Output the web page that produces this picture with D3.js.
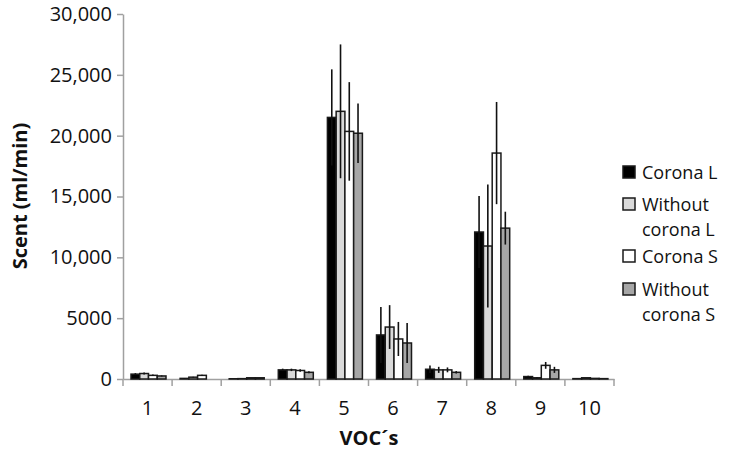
<!DOCTYPE html>
<html>
<head>
<meta charset="utf-8">
<title>VOC scent</title>
<script src="https://cdn.jsdelivr.net/npm/d3@7"></script>
<style>
  body { margin: 0; background: #fff; }
  text { font-family: "Open Sans", "Liberation Sans", sans-serif; fill: #111; }
</style>
</head>
<body>
<script>
// categories and series (ml/min)
var vocs = ["1","2","3","4","5","6","7","8","9","10"]
var seriesNames = ["Corona L", "Without corona L", "Corona S", "Without corona S"]
var coronaL      = [400, 50, 20, 750, 21500, 3620, 800, 12080, 200, 30]
var withoutL     = [450, 150, 30, 750, 22000, 4270, 750, 10930, 100, 100]
var coronaS      = [300, 300, 100, 700, 20350, 3290, 750, 18570, 1120, 50]
var withoutS     = [250, 0, 100, 550, 20200, 2960, 550, 12400, 750, 30]
var errCoronaL   = [80, 20, 0, 100, 3950, 2300, 300, 2960, 60, 0]
var errWithoutL  = [80, 30, 0, 100, 5500, 1800, 250, 5050, 30, 0]
var errCoronaS   = [60, 40, 0, 100, 4050, 1400, 200, 4200, 280, 0]
var errWithoutS  = [40, 0, 0, 80, 2450, 1650, 100, 1350, 250, 0]
var yTicks = [0, 5000, 10000, 15000, 20000, 25000, 30000]

var values = [coronaL, withoutL, coronaS, withoutS]
var errors = [errCoronaL, errWithoutL, errCoronaS, errWithoutS]
var fills = ["#000000", "#d9d9d9", "#ffffff", "#a6a6a6"]

var w = 729, h = 453
var svg = d3.select("body").append("svg").attr("width", w).attr("height", h)

var x = d3.scaleBand().domain(vocs).range([123, 614])
var xi = d3.scaleBand().domain(d3.range(4)).range([8, 43])
var y = d3.scaleLinear().domain([0, 30000]).range([379, 14])

// y axis
var yAxis = svg.append("g").attr("transform", "translate(123,0)")
  .call(d3.axisLeft(y).tickValues(yTicks).tickSizeOuter(0)
    .tickFormat(function(d){ return d >= 10000 ? d3.format(",")(d) : d }))
yAxis.select(".domain").attr("stroke", "#a0a0a0").attr("stroke-width", 1.5)
yAxis.selectAll(".tick line").attr("stroke", "#a0a0a0").attr("stroke-width", 1.5).attr("x2", -6)
yAxis.selectAll(".tick text").attr("x", -11).style("font-size", "20px").attr("fill", "#111")

// x axis
var xAxis = svg.append("g").attr("transform", "translate(0,379)")
  .call(d3.axisBottom(x).tickSize(0).tickSizeOuter(0))
xAxis.select(".domain").attr("stroke", "#a0a0a0").attr("stroke-width", 1.5)
xAxis.selectAll(".tick text").attr("y", 22).style("font-size", "20px").attr("fill", "#111")
// category separators
var edges = vocs.map(function(v){ return x(v) }).concat([x.range()[1]])
svg.append("g").selectAll("line").data(edges).enter().append("line")
  .attr("x1", function(d){ return d }).attr("x2", function(d){ return d })
  .attr("y1", 379).attr("y2", 386)
  .attr("stroke", "#a0a0a0").attr("stroke-width", 1.5)

// bars with error lines
values.forEach(function(series, s) {
  var rows = series.map(function(v, i){ return { voc: vocs[i], v: v, e: errors[s][i] } })
  var g = svg.append("g")
  g.selectAll("rect").data(rows).enter().append("rect")
    .attr("x", function(d){ return x(d.voc) + xi(s) })
    .attr("width", xi.bandwidth())
    .attr("y", function(d){ return y(d.v) })
    .attr("height", function(d){ return y(0) - y(d.v) })
    .attr("fill", fills[s])
    .attr("stroke", "#1a1a1a")
    .attr("stroke-width", 1.5)
  g.selectAll("line").data(rows.filter(function(d){ return d.e > 0 })).enter().append("line")
    .attr("x1", function(d){ return x(d.voc) + xi(s) + xi.bandwidth() / 2 })
    .attr("x2", function(d){ return x(d.voc) + xi(s) + xi.bandwidth() / 2 })
    .attr("y1", function(d){ return y(d.v + d.e) })
    .attr("y2", function(d){ return y(Math.max(0, d.v - d.e)) })
    .attr("stroke", "#111")
    .attr("stroke-width", 1.6)
})

// axis titles
svg.append("text").attr("x", 369).attr("y", 445).attr("text-anchor", "middle")
  .style("font-size", "20px").style("font-weight", "bold").text("VOC\u00b4s")
svg.append("text").attr("transform", "translate(27,196) rotate(-90)").attr("text-anchor", "middle")
  .style("font-size", "20px").style("font-weight", "bold").text("Scent (ml/min)")

// legend
var legendRows = [["Corona L"], ["Without", "corona L"], ["Corona S"], ["Without", "corona S"]]
var legendY = [172, 204, 256, 289]
legendRows.forEach(function(lines, s) {
  var g = svg.append("g").attr("transform", "translate(623," + legendY[s] + ")")
  g.append("rect").attr("x", 0).attr("y", -6).attr("width", 12).attr("height", 12)
    .attr("fill", fills[s]).attr("stroke", "#1a1a1a").attr("stroke-width", 1.5)
  lines.forEach(function(t, k) {
    g.append("text").attr("x", 19).attr("y", 7 + k * 25).style("font-size", "18px").text(t)
  })
})
</script>
</body>
</html>
